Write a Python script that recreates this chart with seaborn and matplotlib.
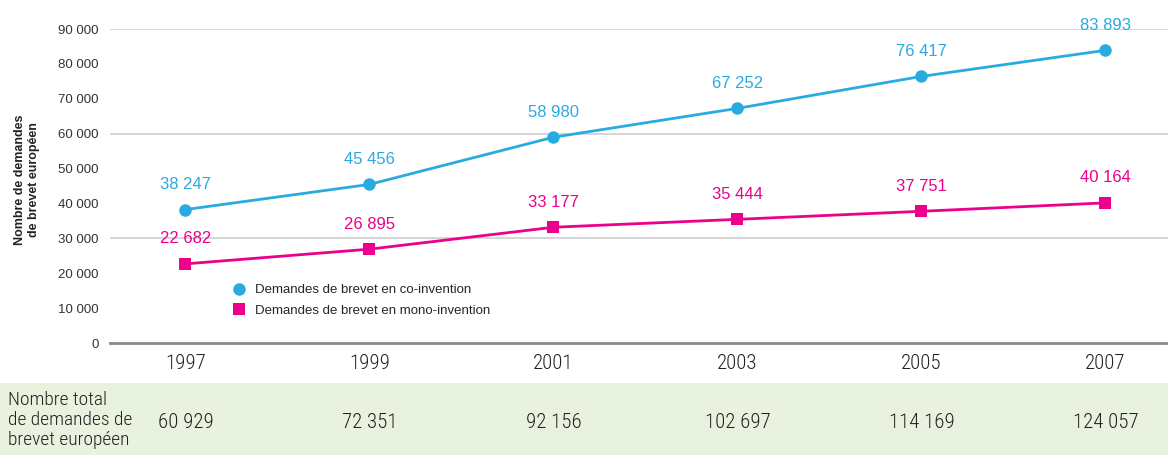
import matplotlib
matplotlib.use("Agg")
import matplotlib.pyplot as plt
import seaborn as sns
import pandas as pd
from matplotlib import font_manager
from matplotlib.font_manager import FontProperties

years = ["1997", "1999", "2001", "2003", "2005", "2007"]
co_invention = [38247, 45456, 58980, 67252, 76417, 83893]
mono_invention = [22682, 26895, 33177, 35444, 37751, 40164]
totals = [60929, 72351, 92156, 102697, 114169, 124057]
series_names = ["Demandes de brevet en co-invention", "Demandes de brevet en mono-invention"]
grid_values = [30000, 60000, 90000]
ytick_values = list(range(0, 90001, 10000))

BLUE = "#29abe2"
PINK = "#ec008c"
GREEN_BG = "#e8f2de"

sns.set_theme(style="white")
plt.rcParams["font.family"] = ["Liberation Sans", "DejaVu Sans"]

names = {f.name for f in font_manager.fontManager.ttflist}
narrow_fp = None
for cand in ["Roboto Condensed", "Liberation Sans Narrow", "Open Sans Condensed", "DejaVu Sans Condensed"]:
    if cand in names:
        narrow_fp = FontProperties(family=cand, weight="light")
        break
if narrow_fp is None:
    narrow_fp = FontProperties(family="DejaVu Sans", stretch="condensed")


def nfp(size):
    fp = narrow_fp.copy()
    fp.set_size(size)
    return fp


def fmt(v):
    return f"{v:,}".replace(",", " ")


df = pd.DataFrame({
    "year": years * 2,
    "value": co_invention + mono_invention,
    "series": [series_names[0]] * len(years) + [series_names[1]] * len(years),
})

fig = plt.figure(figsize=(11.68, 4.55), dpi=100)
ax = fig.add_axes([110 / 1168, (455 - 343) / 455, 1 - 110 / 1168, (343 - 29) / 455])

# bottom band
band = plt.Rectangle((0, 0), 1, (455 - 383) / 455, transform=fig.transFigure,
                     facecolor=GREEN_BG, edgecolor="none", zorder=-5)
fig.patches.append(band)

for g in grid_values:
    ax.axhline(g, color="#cfcfcf", lw=1.2, zorder=0)

sns.lineplot(data=df, x="year", y="value", hue="series", style="series",
             palette=[BLUE, PINK], markers=["o", "s"], dashes=False,
             markersize=9, markeredgewidth=0, lw=2, ax=ax, legend=True, sort=False)

for vals, col in [(co_invention, BLUE), (mono_invention, PINK)]:
    for i, v in enumerate(vals):
        ax.annotate(fmt(v), (i, v), xytext=(0, 18), textcoords="offset points",
                    ha="center", va="center", color=col, fontsize=12, annotation_clip=False)

ax.set_xlim(-0.41, 5.34)
ax.set_ylim(0, 90000)
ax.set_yticks(ytick_values)
ax.set_yticklabels([fmt(v) for v in ytick_values], fontsize=9.5, color="#333333")
ax.tick_params(axis="y", length=0, pad=8)
ax.tick_params(axis="x", direction="inout", length=8, width=1, color="#888888",
               pad=4, labelcolor="#222222")
for lab in ax.get_xticklabels():
    lab.set_fontproperties(nfp(15))
ax.set_xlabel("")
ax.set_ylabel("Nombre de demandes\nde brevet européen", fontsize=9, fontweight="bold",
              color="#222222")
ax.yaxis.set_label_coords(-0.066, 0.52)
for s in ["top", "right", "left"]:
    ax.spines[s].set_visible(False)
ax.spines["bottom"].set_color("#888888")
ax.spines["bottom"].set_linewidth(2)

leg = ax.legend(loc="upper left", bbox_to_anchor=(0.111, 0.205), frameon=False,
                fontsize=9.5, handlelength=1.0, handletextpad=0.7, labelspacing=0.65,
                borderaxespad=0)
for h in leg.legend_handles:
    h.set_linestyle("none")
    h.set_markersize(9)

# totals row
fig.text(8 / 1168, 1 - 420 / 455, "Nombre total\nde demandes de\nbrevet européen",
         ha="left", va="center", fontproperties=nfp(14), color="#222222",
         linespacing=1.15, zorder=5)
ytot = -(423 - 343) / 314
for i, t in enumerate(totals):
    ax.text(i, ytot, fmt(t), transform=ax.get_xaxis_transform(), ha="center", va="center",
            fontproperties=nfp(15), color="#222222", clip_on=False)

fig.savefig("out.png", dpi=100)
